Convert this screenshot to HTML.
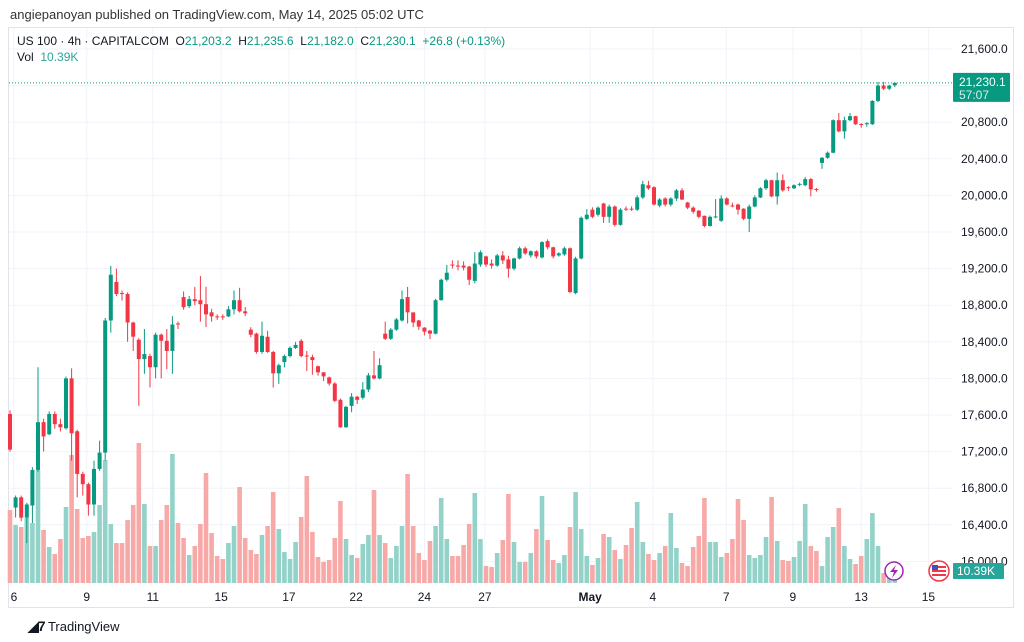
<!DOCTYPE html>
<html><head><meta charset="utf-8">
<style>
body{margin:0;background:#fff;width:1024px;height:642px;overflow:hidden;font-family:"Liberation Sans",sans-serif;}
#wrap{position:relative;width:1024px;height:642px;}
.t{position:absolute;white-space:nowrap;}
</style></head>
<body>
<div id="wrap">
<div class="t" style="left:10px;top:7px;font-size:13px;color:#333;">angiepanoyan published on TradingView.com, May 14, 2025 05:02 UTC</div>
<svg id="chart" width="1024" height="642" style="position:absolute;left:0;top:0"></svg>
<div class="t" style="left:17px;top:34px;font-size:12px;color:#131722;">US 100 · 4h · CAPITALCOM&nbsp;&nbsp;O<span style="color:#089981">21,203.2</span>&nbsp;&nbsp;H<span style="color:#089981">21,235.6</span>&nbsp;&nbsp;L<span style="color:#089981">21,182.0</span>&nbsp;&nbsp;C<span style="color:#089981">21,230.1</span>&nbsp;&nbsp;<span style="color:#089981">+26.8 (+0.13%)</span></div>
<div class="t" style="left:17px;top:50px;font-size:12px;color:#131722;">Vol&nbsp;&nbsp;<span style="color:#26a69a">10.39K</span></div>
<div class="t" style="left:28px;top:618px;font-size:13px;color:#131722;"><b style="font-size:14px;letter-spacing:-1px">&#9698;7</b> TradingView</div>
</div>
<script>
const opens=[17611,16589,16700,16478,16611,17000,17522,17389,17611,17500,17455,18000,17422,16956,16844,16622,17011,17189,18633,19055,18933,18922,18611,18422,18211,18244,18122,18478,18411,18300,18600,18889,18789,18866,18855,18811,18722,18678,18678,18678,18755,18855,18733,18533,18489,18289,18455,18289,18055,18178,18244,18333,18411,18250,18233,18133,18066,18011,17944,17766,17466,17700,17800,17789,17878,18033,17999,18489,18433,18533,18633,18889,18722,18633,18555,18522,18489,18855,19078,19244,19233,19233,19222,19066,19244,19333,19255,19233,19344,19300,19200,19311,19422,19344,19389,19322,19500,19433,19344,19355,19422,18933,19311,19744,19844,19789,19911,19766,19878,19678,19855,19855,19844,19978,20111,20089,19889,19966,19900,19966,20055,19922,19866,19833,19777,19666,19766,19722,19966,19890,19900,19855,19744,19878,19978,20078,20166,19989,20166,20090,20078,20122,20111,20178,20070,20355,20411,20466,20822,20700,20822,20866,20780,20778,20778,21033,21200,21166,21203];
const closes=[17222,16700,16478,16622,17000,17522,17366,17611,17500,17466,18000,17400,16956,16844,16622,17011,17189,18633,19133,18922,18922,18611,18456,18211,18266,18122,18478,18411,18300,18589,18590,18778,18866,18844,18811,18700,18678,18670,18670,18755,18855,18733,18711,18478,18289,18466,18289,18055,18144,18244,18333,18366,18244,18240,18200,18066,18022,17944,17755,17466,17689,17800,17766,17878,18033,17999,18144,18433,18533,18644,18866,18722,18611,18566,18511,18489,18855,19078,19155,19240,19230,19211,19078,19255,19378,19244,19233,19344,19289,19200,19311,19422,19366,19389,19333,19489,19433,19333,19366,19422,18944,19311,19755,19789,19766,19866,19766,19878,19678,19844,19850,19850,19978,20122,20078,19900,19955,19900,19966,20055,19955,19866,19822,19766,19666,19766,19770,19966,19900,19888,19844,19744,19878,19978,20078,20166,19989,20166,20055,20088,20111,20126,20178,20066,20066,20411,20466,20822,20700,20822,20866,20778,20778,20790,21033,21200,21166,21200,21230];
const highs=[17650,16720,16720,16640,17030,18122,17560,17640,17640,17560,18020,18110,17440,16980,16860,17100,17320,18660,19230,19200,18960,18940,18620,18440,18540,18270,18500,18490,18540,18680,18620,18950,18900,19000,19120,19000,18760,18700,18700,18790,18960,18990,18780,18560,18500,18620,18520,18300,18160,18260,18350,18400,18430,18300,18260,18140,18070,18020,17960,17780,17700,17840,17810,17960,18060,18300,18220,18620,18550,18660,18960,19000,18720,18640,18560,18530,18870,19090,19240,19290,19290,19280,19230,19380,19400,19340,19300,19360,19390,19340,19320,19440,19440,19400,19400,19500,19520,19440,19380,19440,19430,19330,19770,19850,19870,19880,19920,19900,19890,19860,19880,19880,20000,20160,20160,20100,19970,19980,19980,20070,20080,19930,19880,19840,19780,19780,19960,20000,19980,19920,19910,19860,19900,20000,20090,20180,20170,20250,20230,20100,20120,20140,20200,20190,20080,20420,20480,20830,20900,20860,20900,20870,20790,20800,21040,21240,21240,21210,21236];
const lows=[17200,16480,16440,16200,16420,16980,17200,17380,17450,17420,17440,17100,16700,16720,16500,16500,16990,17100,18500,18900,18850,18400,18300,17700,18050,17900,18000,18000,18100,18050,18540,18750,18770,18800,18620,18560,18620,18640,18640,18670,18700,18720,18680,18450,18270,18270,18280,17900,17940,18120,18230,18320,18230,18080,18040,18030,17970,17920,17740,17460,17460,17630,17720,17770,17850,17990,17990,18420,18420,18520,18620,18600,18560,18530,18470,18430,18480,18850,19060,19200,19180,19180,19020,19040,19220,19220,19200,19220,19250,19100,19180,19300,19350,19320,19310,19310,19410,19310,19330,19340,18930,18920,19300,19730,19750,19770,19700,19700,19660,19670,19830,19830,19830,19960,20060,19890,19870,19880,19880,19940,19950,19850,19800,19750,19650,19660,19750,19710,19890,19870,19790,19730,19600,19870,19970,20060,19980,19900,20040,20050,20070,20100,20100,19990,20040,20290,20400,20460,20690,20620,20810,20770,20740,20750,20770,21020,21150,21150,21182];
const volumes=[73,58,56,65,60,113,53,36,29,44,76,128,74,45,47,51,78,123,59,40,40,63,78,140,79,37,37,63,78,129,60,45,28,37,59,110,50,27,24,40,57,96,45,33,29,48,57,91,54,31,24,41,66,
107,51,26,21,23,45,82,44,28,25,39,48,93,48,40,25,37,57,109,57,30,23,42,57,85,44,27,27,38,59,90,44,17,16,30,43,89,41,21,21,30,54,87,43,23,20,28,56,91,54,27,18,25,
49,46,33,24,38,55,81,41,29,23,30,37,70,35,20,17,36,47,85,41,41,26,30,44,84,63,28,25,28,46,86,42,23,22,26,42,79,37,32,17,46,56,75,37,24,19,27,44,70,37,10,9,10.39];
const priceTicks=[21600,21200,20800,20400,20000,19600,19200,18800,18400,18000,17600,17200,16800,16400,16000];
const dateLabels=["6","9","11","15","17","22","24","27","May","4","7","9","13","15"];
const dateBars=[0.7,13.7,25.5,37.7,49.8,61.8,74,84.8,103.6,114.8,127.9,139.8,152,164];
const lastPrice=21230.1;

const NS="http://www.w3.org/2000/svg";
const svg=document.getElementById('chart');
const PL=9,PR=952,BASE=583;
function yScale(p){return 49+(21600-p)*0.0915;}
function xScale(i){return 10+5.6*i;}
function vScale(v){return v*1.0;}
function mk(tag,attrs,parent){const e=document.createElementNS(NS,tag);for(const k in attrs)e.setAttribute(k,attrs[k]);(parent||svg).appendChild(e);return e;}

// frame
const frame=mk('rect',{x:8.5,y:27.5,width:1005,height:580,fill:'none',stroke:'#e0e3eb'});


const gGrid=mk('g',{});


priceTicks.forEach(p=>{const l=mk('line',{x1:PL,x2:PR,y1:yScale(p),y2:yScale(p),stroke:'#f0f3fa'},gGrid);

});
dateBars.forEach(b=>{const l=mk('line',{x1:xScale(b),x2:xScale(b),y1:28,y2:BASE,stroke:'#f0f3fa'},gGrid);

});

// volumes
const gVol=mk('g',{});


volumes.forEach((v,i)=>{const up=closes[i]>=opens[i];const h=vScale(v);
const r=mk('rect',{x:xScale(i)-2.3,y:BASE-h,width:4.6,height:h,fill:up?'#92d2c8':'#f7a9a7'},gVol);

});

// candles
const gC=mk('g',{});


opens.forEach((o,i)=>{const c=closes[i];const up=c>=o;const col=up?'#089981':'#f23645';const x=xScale(i);
const w=mk('line',{x1:x,x2:x,y1:yScale(highs[i]),y2:yScale(lows[i]),stroke:col,'stroke-width':1},gC);


const top=yScale(Math.max(o,c)),bot=yScale(Math.min(o,c));
const b=mk('rect',{x:x-2,y:top,width:4,height:Math.max(1,bot-top),fill:col},gC);

});

// last price line
const lp=mk('line',{x1:PL,x2:952,y1:yScale(lastPrice),y2:yScale(lastPrice),stroke:'#089981','stroke-dasharray':'1 2','stroke-width':1});



// axis labels
const gA=mk('g',{});


priceTicks.forEach(p=>{const t=mk('text',{x:961,y:yScale(p)+4,'font-size':12,fill:'#131722','font-family':'Liberation Sans, sans-serif'},gA);
t.textContent=p.toLocaleString('en-US')+'.0';

});
const gX=mk('g',{});


dateLabels.forEach((d,k)=>{const t=mk('text',{x:xScale(dateBars[k]),y:601,'font-size':12,fill:'#131722','text-anchor':'middle','font-weight':d==='May'?'bold':'normal','font-family':'Liberation Sans, sans-serif'},gX);
t.textContent=d;

});

// price badge
const yb=yScale(lastPrice);
const pb=mk('rect',{x:953,y:yb-10,width:57,height:29,fill:'#089981',rx:1});


const t1=mk('text',{x:959,y:yb+3,'font-size':12,fill:'#fff','font-family':'Liberation Sans, sans-serif'});t1.textContent='21,230.1';


const t2=mk('text',{x:959,y:yb+16,'font-size':12,fill:'#d6f0ea','font-family':'Liberation Sans, sans-serif'});t2.textContent='57:07';


// vol badge
const vb=mk('rect',{x:953,y:563,width:51,height:16,fill:'#26a69a',rx:1});


const t3=mk('text',{x:957,y:575,'font-size':12,fill:'#fff','font-family':'Liberation Sans, sans-serif'});t3.textContent='10.39K';


// icons
const ic1=mk('g',{});


mk('circle',{cx:894,cy:571,r:9,fill:'#fff',stroke:'#9c27b0','stroke-width':1.5},ic1);
mk('path',{d:'M896 565 L890 572 L894 572 L892 578 L898 570 L894 570 Z',fill:'#9c27b0'},ic1);
const ic2=mk('g',{});


mk('circle',{cx:939,cy:571,r:10,fill:'#fff',stroke:'#f23645','stroke-width':1.5},ic2);
[566,570,574].forEach(y=>mk('rect',{x:932,y:y,width:14,height:2,fill:'#f23645'},ic2));
mk('rect',{x:932,y:565,width:6,height:5,fill:'#3f51b5'},ic2);
</script>
</body></html>
